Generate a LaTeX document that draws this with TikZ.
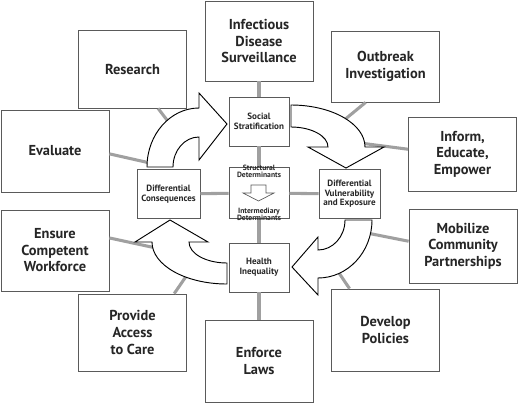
\documentclass[tikz,border=0pt]{standalone}
\usepackage{fontspec}
\setmainfont{PT Sans}
\usepackage{tikz}
\usetikzlibrary{positioning}

\definecolor{boxline}{HTML}{5A5A5A}
\definecolor{linkgray}{HTML}{A0A0A0}
\definecolor{txtgray}{HTML}{262626}

\tikzset{
  boxsize/.style 2 args={minimum width=#1*0.75pt, minimum height=#2*0.75pt},
  outbox/.style={draw=boxline, line width=0.6pt, fill=white, text=txtgray, align=center, inner sep=0pt,
    font=\fontsize{10.8}{12.4}\selectfont\bfseries},
  inbox/.style={draw=boxline, line width=0.6pt, fill=white, text=txtgray, align=center, inner sep=0pt,
    font=\fontsize{6.8}{7.2}\selectfont\bfseries},
  dettext/.style={text=txtgray, align=center, inner sep=0pt,
    font=\fontsize{5.7}{5.6}\selectfont\bfseries},
  link/.style={draw=linkgray, line width=2.3pt},
  bigarrow/.style={draw=black, line width=0.7pt, fill=white, line join=miter},
  smallarrow/.style={draw=boxline, line width=0.5pt, fill=white},
}

\begin{document}
\begin{tikzpicture}[x=0.75pt,y=0.75pt,yscale=-1,xscale=1]
\useasboundingbox (0,0) rectangle (528,411);

% Outer boxes
\node[outbox, boxsize={108}{80}] (idsurv) at (259,41) {Infectious\\Disease\\Surveillance};
\node[outbox, boxsize={108}{78}] (research) at (132.5,69) {Research};
\node[outbox, boxsize={108}{82}] (evaluate) at (55,151) {Evaluate};
\node[outbox, boxsize={108}{71}] (outbreak) at (385.5,66.5) {Outbreak\\Investigation};
\node[outbox, boxsize={108}{74}] (inform) at (462.5,154) {Inform,\\Educate,\\Empower};
\node[outbox, boxsize={108}{81}] (ensure) at (55,250.5) {Ensure\\Competent\\Workforce};
\node[outbox, boxsize={108}{77}] (provide) at (132.5,332.5) {Provide\\Access\\to Care};
\node[outbox, boxsize={108}{82}] (enforce) at (259,361) {Enforce\\Laws};
\node[outbox, boxsize={108}{74}] (mobilize) at (463,246) {Mobilize\\Community\\Partnerships};
\node[outbox, boxsize={108}{82}] (develop) at (385.5,330) {Develop\\Policies};

% Inner boxes
\node[inbox, boxsize={60}{49}] (social) at (259,121.5) {Social\\Stratification};
\node[inbox, boxsize={60}{51}] (detbox) at (259,193) {};
\node[inbox, boxsize={63}{49}] (diffcons) at (168.5,194) {Differential\\Consequences};
\node[inbox, boxsize={61}{49}] (diffvuln) at (349.5,194) {Differential\\Vulnerability\\and Exposure};
\node[inbox, boxsize={60}{49}] (health) at (259,267.5) {Health\\Inequality};

% Free ends of the spokes
\coordinate (rsend) at (170,124);
\coordinate (evend) at (150,163);
\coordinate (obend) at (343,121);
\coordinate (ifend) at (360,143);
\coordinate (mbend) at (367,233);
\coordinate (dpend) at (339,273);
\coordinate (pvend) at (187,275);
\coordinate (enend) at (156,248);

% Spokes
\draw[link] (idsurv) -- (social);
\draw[link] (social) -- (detbox);
\draw[link] (detbox) -- (health);
\draw[link] (health) -- (enforce);
\draw[link] (diffcons) -- (detbox);
\draw[link] (detbox) -- (diffvuln);
\draw[link] (research.303) -- (rsend);
\draw[link] (evaluate.357) -- (evend);
\draw[link] (outbreak.241) -- (obend);
\draw[link] (inform.175) -- (ifend);
\draw[link] (mobilize.175) -- (mbend);
\draw[link] (develop.131) -- (dpend);
\draw[link] (provide.43) -- (pvend);
\draw[link] (ensure.13) -- (enend);

% Curved arrows
\draw[bigarrow] (147,167) arc (180:270:52 and 59) -- (199,93) -- (227,124) -- (199,160) -- (199,137) arc (270:180:26 and 30) -- cycle;
\draw[bigarrow] (291,105) arc (270:360:74 and 42) -- (384,147) -- (346,168) -- (308,147) -- (328,147) arc (0:-90:37 and 20) -- cycle;
\draw[bigarrow] (372,220) arc (0:90:54 and 58) -- (318,295) -- (292,267) -- (318,237) -- (318,250) arc (90:0:27 and 30) -- cycle;
\draw[bigarrow] (227,284) arc (90:180:75 and 42) -- (135,242) -- (170,220) -- (208,242) -- (189,242) arc (180:90:38 and 21) -- cycle;

% Determinants
\draw[smallarrow] (251,185) -- (266,185) -- (266,193) -- (274,193) -- (258.5,201) -- (243,193) -- (251,193) -- cycle;
\node[dettext, anchor=north] (sdet) at ([yshift=-1.8pt]detbox.north) {Structural\\Determinants};
\node[dettext, anchor=south] (idet) at ([yshift=1.8pt]detbox.south) {Intermediary\\Determinants};

\end{tikzpicture}
\end{document}
